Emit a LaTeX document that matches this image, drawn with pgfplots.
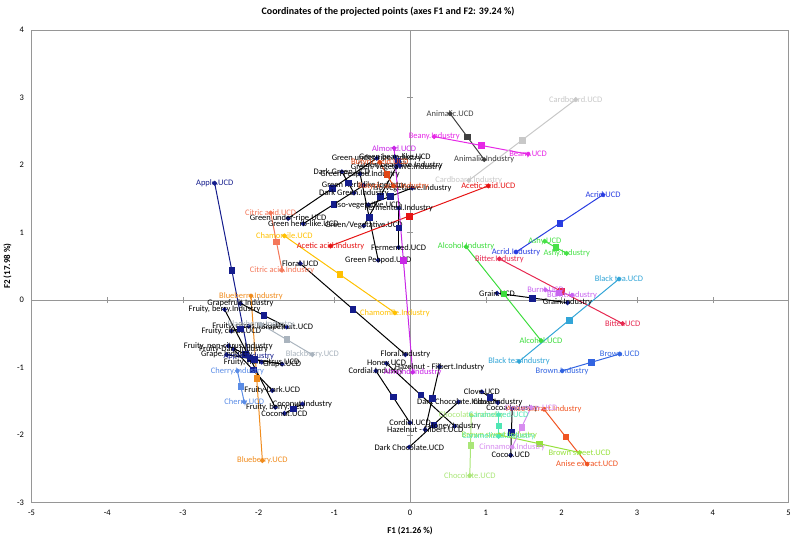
\documentclass[border=0pt]{standalone}
\usepackage{pgfplots}
\pgfplotsset{compat=1.18}
\usepackage{fontspec}
\setmainfont{Carlito}
\definecolor{navyd}{RGB}{20,28,140}
\definecolor{axgray}{RGB}{150,150,150}
\definecolor{citric}{RGB}{244,120,90}
\definecolor{chamo}{RGB}{255,192,0}
\definecolor{acetic}{RGB}{230,20,20}
\definecolor{animal}{RGB}{64,64,64}
\definecolor{beany}{RGB}{230,40,230}
\definecolor{cardb}{RGB}{200,200,200}
\definecolor{almond}{RGB}{200,40,230}
\definecolor{butyr}{RGB}{224,70,20}
\definecolor{bluebry}{RGB}{240,140,30}
\definecolor{cherry}{RGB}{90,140,230}
\definecolor{blackb}{RGB}{170,180,190}
\definecolor{acrid}{RGB}{40,60,225}
\definecolor{ashy}{RGB}{70,225,70}
\definecolor{alcohol}{RGB}{60,220,60}
\definecolor{bitter}{RGB}{230,40,80}
\definecolor{burnt}{RGB}{200,100,240}
\definecolor{blacktea}{RGB}{50,165,215}
\definecolor{brown}{RGB}{50,100,225}
\definecolor{anise}{RGB}{240,85,35}
\definecolor{brsweet}{RGB}{150,225,60}
\definecolor{choc}{RGB}{170,230,120}
\definecolor{caram}{RGB}{80,230,180}
\definecolor{cinn}{RGB}{215,140,240}
\newcommand\lbl{\fontsize{8.5}{9}\selectfont}
\pgfplotsset{
 col/.style={color=#1, mark options={draw=#1,fill=#1}, every node near coord/.append style={text=#1}},
 blk/.style={color=black, mark options={draw=navyd,fill=navyd}, every node near coord/.append style={text=black}},
}
% style, xU, yU, labelU, xI, yI, labelI, xmid, ymid
\newcommand\pair[9]{%
\addplot[#1, line width=1pt, mark=*, mark size=1.9pt, nodes near coords, point meta=explicit symbolic,
  every node near coord/.append style={anchor=center, font=\lbl, inner sep=0pt}]
  coordinates {(#2,#3) [#4] (#5,#6) [#7]};
\addplot[#1, only marks, mark=square*, mark size=2.8pt] coordinates {(#8,#9)};
}
\begin{document}
\begin{tikzpicture}
\begin{axis}[name=ax, scale only axis, width=757bp, height=472.5bp,
  xmin=-5, xmax=5, ymin=-3, ymax=4,
  xtick={-5,...,5}, ytick={-3,...,4}, major tick length=0pt,
  axis line style={draw=axgray},
  tick label style={font=\fontsize{8.5}{9}\selectfont},
  /pgf/number format/assume math mode=true,
  xticklabel style={yshift=-4bp}, yticklabel style={xshift=-4bp},
  clip=false]
\draw[axgray] (axis cs:0,-3) -- (axis cs:0,4);
\draw[axgray] (axis cs:-5,0) -- (axis cs:5,0);
\draw[axgray] (axis cs:-4,-0.045) -- (axis cs:-4,0.045);
\draw[axgray] (axis cs:-3,-0.045) -- (axis cs:-3,0.045);
\draw[axgray] (axis cs:-2,-0.045) -- (axis cs:-2,0.045);
\draw[axgray] (axis cs:-1,-0.045) -- (axis cs:-1,0.045);
\draw[axgray] (axis cs:1,-0.045) -- (axis cs:1,0.045);
\draw[axgray] (axis cs:2,-0.045) -- (axis cs:2,0.045);
\draw[axgray] (axis cs:3,-0.045) -- (axis cs:3,0.045);
\draw[axgray] (axis cs:4,-0.045) -- (axis cs:4,0.045);
\draw[axgray] (axis cs:-0.04,-2) -- (axis cs:0.04,-2);
\draw[axgray] (axis cs:-0.04,-1) -- (axis cs:0.04,-1);
\draw[axgray] (axis cs:-0.04,1) -- (axis cs:0.04,1);
\draw[axgray] (axis cs:-0.04,2) -- (axis cs:0.04,2);
\draw[axgray] (axis cs:-0.04,3) -- (axis cs:0.04,3);
% green cluster (black lines)
\pair{blk}{-1.61}{1.21}{Green under-ripe.UCD}{-0.44}{2.10}{Green under-ripe.Industry}{-1.025}{1.655}
\pair{blk}{-1.41}{1.13}{Green herb-like.UCD}{-0.61}{1.70}{Green herb-like.Industry}{-1.01}{1.415}
\pair{blk}{-0.42}{0.59}{Green Peapod.UCD}{-0.66}{1.87}{Green Peapod.Industry}{-0.54}{1.23}
\pair{blk}{-0.61}{1.10}{Green/Vegetative.UCD}{-0.18}{1.97}{Green/Vegetative.Industry}{-0.395}{1.535}
\pair{blk}{-0.90}{1.90}{Dark Green.UCD}{-0.74}{1.585}{Dark Green.Industry}{-0.82}{1.74}
\pair{blk}{-0.20}{2.12}{Green bean-like.UCD}{-0.13}{1.99}{Green bean-like.Industry}{-0.165}{2.055}
\pair{blk}{-0.55}{1.41}{Iso-vegetative.UCD}{0.03}{1.66}{Iso-vegetative.Industry}{-0.26}{1.535}
\pair{blk}{-0.15}{0.78}{Fermented.UCD}{-0.15}{1.36}{Fermented.Industry}{-0.15}{1.07}
% fruity cluster
\pair{blk}{-1.82}{-1.34}{Fruity-Dark.UCD}{-2.33}{-0.73}{Fruity-Dark.Industry}{-2.075}{-1.035}
\pair{blk}{-1.78}{-1.59}{Fruity, berry.UCD}{-2.45}{-0.14}{Fruity, berry.Industry}{-2.115}{-0.865}
\pair{blk}{-1.63}{-0.40}{Grapefruit.UCD}{-2.24}{-0.05}{Grapefruit.Industry}{-1.935}{-0.225}
\pair{blk}{-2.36}{-0.46}{Fruity, citrus.UCD}{-2.13}{-0.39}{Fruity, citrus.Industry}{-2.245}{-0.425}
\pair{blk}{-1.96}{-0.92}{Fruity, non-citrus.UCD}{-2.40}{-0.68}{Fruity, non-citrus.Industry}{-2.18}{-0.80}
\pair{blk}{-1.69}{-0.95}{Grape.UCD}{-2.42}{-0.81}{Grape.Industry}{-2.055}{-0.88}
\pair{blk}{-1.66}{-1.68}{Coconut.UCD}{-1.42}{-1.54}{Coconut.Industry}{-1.54}{-1.61}
\pair{blk}{-1.45}{0.54}{Floral.UCD}{-0.06}{-0.81}{Floral.Industry}{-0.755}{-0.135}
% bottom centre
\pair{blk}{-0.01}{-2.18}{Dark Chocolate.UCD}{0.64}{-1.51}{Dark Chocolate.Industry}{0.315}{-1.845}
\pair{blk}{0.20}{-1.92}{Hazelnut - Filbert.UCD}{0.39}{-0.99}{Hazelnut - Filbert.Industry}{0.295}{-1.455}
\pair{blk}{-0.31}{-0.94}{Honey.UCD}{0.59}{-1.87}{Honey.Industry}{0.14}{-1.405}
\pair{blk}{0.00}{-1.82}{Cordial.UCD}{-0.45}{-1.05}{Cordial.Industry}{-0.225}{-1.435}
\pair{blk}{0.95}{-1.36}{Clove.UCD}{1.16}{-1.52}{Clove.Industry}{1.055}{-1.44}
\pair{blk}{1.33}{-2.30}{Cocoa.UCD}{1.35}{-1.61}{Cocoa.Industry}{1.34}{-1.955}
\pair{blk}{1.15}{0.10}{Grain.UCD}{2.08}{-0.04}{Grain.Industry}{1.615}{0.03}
% coloured pairs
\pair{col=navyd}{-2.58}{1.73}{Apple.UCD}{-2.13}{-0.84}{Apple.Industry}{-2.355}{0.445}
\pair{col=citric}{-1.84}{1.29}{Citric acid.UCD}{-1.69}{0.44}{Citric acid.Industry}{-1.765}{0.865}
\pair{col=chamo}{-1.66}{0.95}{Chamomile.UCD}{-0.20}{-0.19}{Chamomile.Industry}{-0.93}{0.38}
\pair{col=acetic}{1.035}{1.69}{Acetic acid.UCD}{-1.05}{0.80}{Acetic acid.Industry}{-0.01}{1.245}
\pair{col=animal}{0.53}{2.76}{Animalic.UCD}{0.98}{2.08}{Animalic.Industry}{0.755}{2.42}
\pair{col=beany}{1.56}{2.16}{Beany.UCD}{0.32}{2.42}{Beany.Industry}{0.94}{2.29}
\pair{col=cardb}{2.19}{2.97}{Cardboard.UCD}{0.775}{1.77}{Cardboard.Industry}{1.48}{2.37}
\pair{col=almond}{-0.21}{2.25}{Almond.UCD}{0.035}{-1.07}{Almond.Industry}{-0.09}{0.59}
\pair{col=butyr}{-0.40}{2.04}{Butyric acid.UCD}{-0.22}{1.69}{Butyric acid.Industry}{-0.31}{1.865}
\pair{col=bluebry}{-1.95}{-2.38}{Blueberry.UCD}{-2.10}{0.06}{Blueberry.Industry}{-2.025}{-1.16}
\pair{col=cherry}{-2.19}{-1.51}{Cherry.UCD}{-2.28}{-1.05}{Cherry.Industry}{-2.235}{-1.28}
\pair{col=blackb}{-1.29}{-0.81}{Blackberry.UCD}{-1.97}{-0.36}{Blackberry.Industry}{-1.63}{-0.585}
\pair{col=acrid}{2.55}{1.56}{Acrid.UCD}{1.40}{0.71}{Acrid.Industry}{1.975}{1.135}
\pair{col=ashy}{1.78}{0.87}{Ashy.UCD}{2.07}{0.69}{Ashy.Industry}{1.925}{0.78}
\pair{col=alcohol}{1.73}{-0.60}{Alcohol.UCD}{0.74}{0.79}{Alcohol.Industry}{1.235}{0.095}
\pair{col=bitter}{2.81}{-0.35}{Bitter.UCD}{1.18}{0.61}{Bitter.Industry}{1.995}{0.13}
\pair{col=burnt}{1.79}{0.15}{Burnt.UCD}{2.14}{0.07}{Burnt.Industry}{1.965}{0.11}
\pair{col=blacktea}{2.76}{0.31}{Black tea.UCD}{1.44}{-0.91}{Black tea.Industry}{2.10}{-0.30}
\pair{col=brown}{2.77}{-0.80}{Brown.UCD}{2.01}{-1.05}{Brown.Industry}{2.39}{-0.925}
\pair{col=anise}{2.34}{-2.43}{Anise extract.UCD}{1.77}{-1.62}{Anise extract.Industry}{2.055}{-2.025}
\pair{col=brsweet}{2.24}{-2.26}{Brown sweet.UCD}{1.18}{-2.00}{Brown sweet.Industry}{1.71}{-2.13}
\pair{col=choc}{0.79}{-2.60}{Chocolate.UCD}{0.81}{-1.71}{Chocolate.Industry}{0.80}{-2.155}
\pair{col=caram}{1.17}{-1.70}{Caramelized.UCD}{1.17}{-2.02}{Caramelized.Industry}{1.17}{-1.86}
\pair{col=cinn}{1.60}{-1.59}{Cinnamon.UCD}{1.35}{-2.18}{Cinnamon.Industry}{1.475}{-1.885}
\end{axis}
\node[font=\bfseries\fontsize{10}{12}\selectfont] at ([xshift=-22bp,yshift=18bp]ax.north) {Coordinates of the projected points (axes F1 and F2: 39.24 \%)};
\node[font=\bfseries\fontsize{9}{11}\selectfont] at ([yshift=-28bp]ax.south) {F1 (21.26 \%)};
\node[font=\bfseries\fontsize{9}{11}\selectfont, rotate=90] at ([xshift=-24bp]ax.west) {F2 (17.98 \%)};
\pgfresetboundingbox
\path ([xshift=-31.5bp,yshift=-33.5bp]ax.south west) rectangle ([xshift=4.5bp,yshift=30bp]ax.north east);
\end{tikzpicture}
\end{document}
